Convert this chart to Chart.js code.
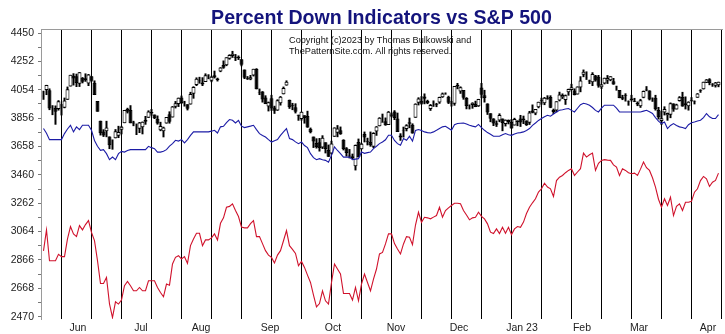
<!DOCTYPE html>
<html lang="en">
<head>
<meta charset="UTF-8">
<title>Percent Down Indicators vs S&amp;P 500</title>
<script src="https://cdn.jsdelivr.net/npm/chart.js"></script>
<style>
  body { margin: 0; background: #fff; }
  #wrap { width: 725px; height: 334px; }
</style>
</head>
<body>
<div id="wrap"><canvas id="pdChart" width="725" height="334"></canvas></div>
<script>
// month labels and the bar index of the first session of each month
const monthLabels = ['Jun', 'Jul', 'Aug', 'Sep', 'Oct', 'Nov', 'Dec', 'Jan 23', 'Feb', 'Mar', 'Apr'];
const monthStarts = [11, 32, 52, 75, 96, 117, 138, 159, 179, 198, 221];
const yTicks = [2470, 2668, 2866, 3064, 3262, 3460, 3658, 3856, 4054, 4252, 4450];

// S&P 500 daily bars, 16 May 2022 .. 10 Apr 2023
const spOpen = [
  4013,4052,4051,3900,3927,3919,3943,3929,3984,4077,
  4151,4149,4096,4138,4135,4097,4148,4102,3975,3838,
  3763,3765,3728,3675,3715,3733,3774,3821,3920,3913,
  3826,3786,3782,3792,3831,3858,3889,3881,3851,3771,
  3764,3819,3883,3861,3935,3955,4000,3965,3953,3951,
  4026,4087,4113,4105,4108,4154,4116,4156,4133,4181,
  4227,4225,4270,4290,4281,4274,4267,4195,4134,4126,
  4154,4198,4034,4041,4000,3937,3994,3930,3910,3959,
  4022,4083,3982,3941,3932,3880,3849,3876,3871,3782,
  3727,3682,3687,3651,3687,3633,3609,3726,3754,3771,
  3705,3645,3595,3590,3520,3690,3638,3746,3689,3689,
  3657,3763,3799,3825,3834,3808,3882,3902,3853,3734,
  3767,3780,3817,3810,3859,3963,3977,4007,3976,3919,
  3966,3956,3965,4001,4023,4005,3964,3957,4087,4041,
  4052,3996,3934,3947,3954,3939,4069,4016,3958,3890,
  3853,3810,3840,3853,3815,3843,3829,3805,3829,3853,
  3841,3840,3823,3910,3889,3932,3977,3960,3999,4003,
  3912,3909,3979,4001,3982,4036,4053,4049,4021,4070,
  4158,4137,4119,4106,4153,4144,4072,4097,4118,4120,
  4114,4077,4052,4001,4018,3973,3993,3977,3964,3938,
  3999,4055,4048,3987,3999,3912,3836,3895,3876,3879,
  3958,3917,3975,4003,3960,3939,3982,3974,3999,4046,
  4057,4102,4128,4094,4082,4085
];
const spHigh = [
  4047,4088,4063,3946,3944,3981,3955,3999,4076,4158,
  4169,4166,4177,4142,4168,4164,4149,4119,3975,3838,
  3778,3837,3728,3707,3779,3802,3802,3913,3928,3946,
  3837,3818,3829,3832,3871,3910,3919,3881,3874,3830,
  3796,3864,3903,3940,3975,3999,4013,3976,3953,4039,
  4078,4140,4144,4141,4168,4162,4151,4187,4138,4211,
  4258,4280,4301,4325,4303,4293,4267,4195,4149,4157,
  4200,4204,4062,4044,4015,3971,4018,3942,3987,4010,
  4076,4119,3985,3962,3959,3880,3901,3876,3907,3790,
  3727,3715,3717,3736,3687,3671,3698,3791,3807,3797,
  3708,3653,3640,3608,3671,3713,3683,3762,3719,3762,
  3757,3800,3862,3887,3860,3905,3893,3911,3894,3750,
  3796,3813,3859,3819,3959,4001,4009,4028,3984,3954,
  3979,3962,4005,4034,4035,4012,3976,4080,4101,4077,
  4052,4002,3951,3966,3977,3990,4101,4053,3959,3890,
  3855,3839,3889,3853,3846,3846,3849,3858,3840,3878,
  3873,3840,3906,3951,3919,3970,3998,4003,4015,4015,
  3922,3973,4040,4028,4020,4061,4095,4063,4077,4148,
  4195,4182,4124,4176,4157,4157,4095,4138,4156,4148,
  4136,4082,4052,4018,4029,3979,4018,3997,3972,3990,
  4048,4079,4050,4000,4018,3934,3905,3938,3894,3965,
  3959,3956,4009,4039,4007,3973,4002,3979,4030,4057,
  4110,4128,4134,4100,4108,4110
];
const spLow = [
  3984,4017,3912,3877,3810,3909,3875,3925,3984,4077,
  4084,4073,4074,4099,4110,4080,4110,4017,3901,3735,
  3725,3723,3640,3636,3715,3717,3743,3821,3889,3820,
  3800,3738,3752,3743,3810,3858,3873,3850,3811,3765,
  3722,3818,3818,3861,3924,3934,3955,3937,3910,3951,
  3992,4080,4097,4080,4108,4128,4107,4133,4112,4177,
  4201,4219,4264,4277,4255,4262,4218,4129,4123,4121,
  4147,4057,4017,3965,3954,3903,3907,3886,3907,3944,
  4022,4083,3921,3912,3889,3838,3839,3818,3789,3750,
  3648,3644,3623,3641,3610,3585,3604,3726,3723,3740,
  3631,3588,3575,3570,3491,3582,3638,3687,3666,3657,
  3647,3733,3799,3825,3803,3808,3863,3843,3759,3698,
  3721,3764,3786,3748,3859,3945,3950,3953,3954,3907,
  3935,3933,3956,3998,4020,3955,3937,3943,4058,4026,
  3985,3918,3917,3922,3933,3935,3994,3965,3879,3828,
  3801,3795,3828,3765,3798,3813,3783,3805,3800,3795,
  3815,3802,3809,3890,3877,3925,3950,3947,3985,3926,
  3885,3897,3973,3990,3949,4013,4049,4015,4021,4037,
  4142,4123,4094,4080,4111,4069,4060,4092,4095,4114,
  4089,4048,3995,3982,3972,3943,3973,3968,3940,3928,
  3995,4044,3980,3970,3909,3847,3809,3875,3838,3856,
  3901,3917,3972,3936,3917,3909,3971,3952,3999,4033,
  4056,4101,4086,4075,4070,4072
];
const spClose = [
  4008,4088,3923,3901,3901,3973,3941,3979,4058,4158,
  4132,4101,4177,4109,4121,4161,4116,4018,3901,3750,
  3735,3790,3667,3675,3765,3760,3796,3912,3901,3821,
  3819,3785,3825,3831,3845,3903,3899,3855,3819,3801,
  3790,3863,3831,3937,3959,3999,3962,3967,3921,4024,
  4073,4130,4119,4091,4155,4152,4145,4140,4122,4210,
  4208,4280,4297,4305,4275,4284,4228,4138,4128,4141,
  4200,4058,4031,3986,3955,3967,3924,3908,3980,4006,
  4067,4110,3932,3946,3901,3873,3900,3856,3790,3758,
  3693,3655,3647,3719,3640,3586,3678,3791,3783,3744,
  3640,3612,3589,3577,3669,3583,3677,3720,3695,3666,
  3752,3798,3859,3831,3807,3901,3872,3856,3760,3720,
  3771,3807,3828,3749,3957,3993,3957,3992,3959,3947,
  3965,3950,4003,4027,4026,3964,3958,4080,4076,4072,
  3999,3941,3933,3964,3934,3990,4019,3996,3896,3852,
  3818,3821,3878,3822,3845,3829,3783,3849,3840,3825,
  3853,3808,3895,3893,3919,3970,3983,3999,3991,3929,
  3899,3973,4020,4017,4016,4060,4071,4018,4077,4119,
  4180,4136,4111,4164,4118,4082,4090,4137,4136,4148,
  4090,4079,3997,3991,4012,3970,3982,3970,3951,3981,
  4046,4048,3986,3992,3918,3862,3855,3920,3892,3960,
  3917,3951,4002,3937,3948,3971,3977,3971,4028,4051,
  4109,4125,4101,4091,4105,4109
];

// percent down indicators, plotted on the price axis
const blueLine = [
  3783,3750,3706,3706,3706,3706,3706,3748,3780,3806,
  3760,3795,3776,3806,3806,3806,3771,3700,3660,3631,
  3636,3608,3566,3584,3566,3608,3624,3619,3630,3636,
  3636,3636,3636,3636,3636,3659,3650,3643,3619,3619,
  3625,3636,3660,3678,3701,3696,3706,3683,3706,3735,
  3760,3760,3760,3760,3760,3760,3765,3771,3752,3795,
  3799,3825,3846,3841,3822,3840,3800,3790,3795,3800,
  3806,3776,3748,3735,3724,3706,3689,3698,3706,3736,
  3760,3783,3713,3706,3690,3678,3689,3665,3650,3608,
  3580,3566,3573,3565,3561,3549,3596,3655,3630,3608,
  3584,3584,3584,3566,3570,3573,3619,3610,3615,3619,
  3643,3660,3678,3689,3705,3736,3736,3700,3678,3666,
  3713,3701,3729,3696,3770,3776,3770,3760,3755,3752,
  3760,3771,3783,3795,3799,3785,3771,3810,3818,3820,
  3822,3815,3806,3800,3795,3812,3790,3771,3755,3743,
  3729,3729,3729,3740,3748,3740,3736,3745,3752,3755,
  3760,3770,3783,3805,3822,3840,3853,3865,3876,3869,
  3885,3899,3911,3915,3920,3923,3910,3899,3925,3950,
  3960,3955,3946,3930,3910,3899,3925,3946,3946,3946,
  3946,3925,3899,3899,3899,3899,3899,3899,3899,3899,
  3905,3911,3900,3888,3860,3835,3818,3829,3783,3805,
  3818,3805,3795,3790,3783,3810,3824,3829,3836,3841,
  3860,3888,3865,3853,3853,3880
];
const redLine = [
  2930,3076,2861,2861,2861,2905,2889,2889,3013,3099,
  3048,3029,3106,3076,3113,3141,3059,3001,2861,2702,
  2702,2744,2560,2464,2574,2558,2586,2686,2716,2686,
  2651,2651,2674,2651,2651,2721,2721,2721,2674,2639,
  2609,2698,2690,2838,2884,2896,2873,2889,2842,2966,
  3013,3052,3052,2966,3006,3006,3020,3048,3006,3122,
  3160,3234,3240,3258,3211,3169,3095,3090,3090,3120,
  3141,3029,3029,2980,2931,2900,2884,2845,2900,2931,
  3000,3071,2966,2940,2912,2826,2856,2814,2760,2709,
  2620,2539,2562,2651,2581,2558,2709,2838,2803,2768,
  2632,2632,2632,2586,2674,2581,2698,2768,2709,2651,
  2733,2803,2908,2919,2978,3048,3048,2980,2943,2908,
  2978,3029,3024,2973,3110,3199,3129,3164,3160,3153,
  3165,3176,3234,3164,3211,3230,3246,3262,3262,3258,
  3211,3180,3146,3160,3164,3199,3170,3153,3118,3060,
  3050,3083,3050,3094,3052,3094,3043,3083,3099,3094,
  3130,3190,3234,3265,3293,3340,3363,3402,3375,3363,
  3309,3420,3444,3456,3475,3491,3503,3456,3480,3503,
  3612,3584,3600,3612,3491,3540,3561,3566,3563,3561,
  3530,3514,3456,3503,3491,3475,3468,3472,3456,3500,
  3549,3510,3491,3440,3375,3290,3234,3293,3246,3304,
  3176,3240,3258,3211,3269,3269,3275,3339,3363,3420,
  3449,3432,3379,3409,3421,3472
];

const fontFam = 'Arial, "Liberation Sans", sans-serif';

// vertical separators every ten sessions, month names at month starts
const gridLines = [];
for (let i = 6; i <= 226; i += 10) gridLines.push(i);
const monthTicks = monthStarts.map(s => s + 0.5);

const wicks = spClose.map((c, i) => ({ x: i, y: [spLow[i], spHigh[i]] }));
const bodies = spClose.map((c, i) => ({ x: i, y: [spOpen[i], c] }));
const toXY = arr => arr.map((v, i) => ({ x: i, y: v }));

const headerPlugin = {
  id: 'header',
  afterDraw(chart) {
    const { ctx, chartArea } = chart;
    ctx.save();
    ctx.textBaseline = 'alphabetic';
    ctx.fillStyle = '#14147c';
    ctx.font = 'bold 19.6px ' + fontFam;
    ctx.textAlign = 'center';
    ctx.fillText('Percent Down Indicators vs S&P 500', (chartArea.left + chartArea.right) / 2, 24);
    ctx.fillStyle = '#111';
    ctx.font = '9.2px ' + fontFam;
    ctx.textAlign = 'left';
    ctx.fillText('Copyright (c)2023 by Thomas Bulkowski and', 289, 43);
    ctx.fillText('ThePatternSite.com. All rights reserved.', 289, 54);
    ctx.restore();
  }
};

new Chart(document.getElementById('pdChart'), {
  type: 'bar',
  data: {
    datasets: [
      {
        type: 'line',
        label: 'Percent down (red)',
        data: toXY(redLine),
        borderColor: '#d0122c',
        borderWidth: 1.1,
        pointRadius: 0,
        tension: 0,
        xAxisID: 'x',
        yAxisID: 'y',
        order: 1
      },
      {
        type: 'line',
        label: 'Percent down (blue)',
        data: toXY(blueLine),
        borderColor: '#1c1ca6',
        borderWidth: 1.1,
        pointRadius: 0,
        tension: 0,
        xAxisID: 'x',
        yAxisID: 'y',
        order: 2
      },
      {
        label: 'Body',
        data: bodies,
        backgroundColor: c => (spClose[c.dataIndex] >= spOpen[c.dataIndex] ? '#fff' : '#000'),
        borderColor: '#000',
        borderWidth: 1,
        borderSkipped: false,
        barThickness: 4,
        inflateAmount: 0,
        grouped: false,
        xAxisID: 'x',
        yAxisID: 'y',
        order: 3
      },
      {
        label: 'Range',
        data: wicks,
        backgroundColor: '#000',
        borderWidth: 0,
        barThickness: 2,
        inflateAmount: 0,
        grouped: false,
        xAxisID: 'x',
        yAxisID: 'y',
        order: 4
      }
    ]
  },
  options: {
    responsive: false,
    animation: false,
    events: [],
    layout: { padding: { top: 29, right: 3, left: 0, bottom: 0 } },
    plugins: {
      legend: { display: false },
      tooltip: { enabled: false },
      title: { display: false }
    },
    scales: {
      x: {
        type: 'linear',
        min: -0.83,
        max: 226.17,
        offset: false,
        afterBuildTicks: s => {
          s.ticks = [...gridLines, ...monthTicks].sort((a, b) => a - b).map(v => ({ value: v }));
        },
        afterFit: s => { s.height = 15; },
        grid: {
          offset: false,
          drawTicks: false,
          lineWidth: 1,
          color: c => (c.tick && gridLines.includes(c.tick.value) ? '#000' : 'rgba(0,0,0,0)')
        },
        border: { display: false },
        ticks: {
          autoSkip: false,
          maxRotation: 0,
          padding: 3,
          color: '#222',
          font: { family: fontFam, size: 10.5 },
          callback: v => {
            const k = monthTicks.indexOf(v);
            return k >= 0 ? monthLabels[k] : '';
          }
        }
      },
      x2: {
        type: 'linear',
        position: 'top',
        min: 0,
        max: 1,
        afterFit: s => { s.height = 0; },
        grid: { display: false },
        ticks: { display: false },
        border: { display: true, color: '#9a9a9a' }
      },
      y: {
        type: 'linear',
        min: 2454,
        max: 4478,
        afterBuildTicks: s => {
          const t = [];
          yTicks.forEach((v, k) => {
            t.push({ value: v });
            if (k < yTicks.length - 1) t.push({ value: (v + yTicks[k + 1]) / 2 });
          });
          s.ticks = t;
        },
        afterFit: s => { s.width = 41; },
        grid: { drawOnChartArea: false, drawTicks: true, tickLength: 3, color: '#777' },
        border: { display: true, color: '#9a9a9a' },
        ticks: {
          autoSkip: false,
          padding: 4,
          color: '#222',
          font: { family: fontFam, size: 10.5 },
          callback: v => (yTicks.includes(v) ? String(v) : '')
        }
      }
    }
  },
  plugins: [headerPlugin]
});
</script>
</body>
</html>
